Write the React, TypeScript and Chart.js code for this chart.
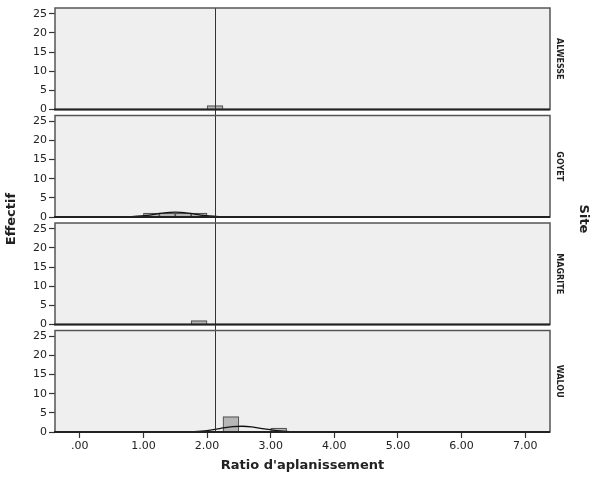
import React, { useEffect, useRef } from "react";
import { Chart, registerables } from "chart.js";

Chart.register(...registerables);

// ---- data ----
const sites = ["ALWESSE", "GOYET", "MAGRITE", "WALOU"];
const yAxisIds = ["yA", "yG", "yM", "yW"];

const alwesseBins = [2.125];
const alwesseCounts = [1];
const goyetBins = [1.125, 1.375, 1.625, 1.875];
const goyetCounts = [1, 1, 1, 1];
const magriteBins = [1.875];
const magriteCounts = [1];
const walouBins = [2.375, 3.125];
const walouCounts = [4, 1];

// normal curves
const goyetCurveX = [-0.39, 0.7, 0.9, 1.1, 1.3, 1.5, 1.7, 1.9, 2.1, 2.3, 7.39];
const goyetCurveY = [0, 0, 0.2, 0.5, 1.0, 1.25, 1.0, 0.5, 0.2, 0, 0];
const walouCurveX = [-0.39, 1.5, 1.8, 2.0, 2.2, 2.4, 2.55, 2.7, 2.9, 3.1, 3.3, 3.6, 7.39];
const walouCurveY = [0, 0, 0.1, 0.35, 0.9, 1.4, 1.5, 1.35, 0.8, 0.35, 0.1, 0, 0];

const xTicks = [0, 1, 2, 3, 4, 5, 6, 7];
const yTicks = [0, 5, 10, 15, 20, 25];
const xMin = -0.39;
const xMax = 7.39;
const yMax = 28.1;
const referenceValue = 2.12;

const xTitle = "Ratio d'aplanissement";
const yTitle = "Effectif";
const panelTitle = "Site";

// ---- styles ----
const GAP = 6;
const PANEL_BG = "#efefef";
const FRAME = "#555555";
const BAR_FILL = "#b6b6b6";
const BAR_BORDER = "#555555";
const TEXT = "#222222";
const FONT = "'DejaVu Sans', Verdana, sans-serif";

const toPoints = (xs: number[], ys: number[]) => xs.map((x, i) => ({ x, y: ys[i] }));

const panelsPlugin = {
  id: "panels",
  beforeDatasetsDraw(chart: any) {
    const { ctx, chartArea } = chart;
    ctx.save();
    ctx.fillStyle = PANEL_BG;
    for (const id of yAxisIds) {
      const s = chart.scales[id];
      ctx.fillRect(chartArea.left, s.top + GAP, chartArea.right - chartArea.left, s.bottom - s.top - GAP);
    }
    ctx.restore();
  },
  afterDatasetsDraw(chart: any) {
    const { ctx, chartArea } = chart;
    ctx.save();
    // reference line
    const xs = chart.scales.x;
    const rx = Math.round(xs.getPixelForValue(referenceValue)) + 0.5;
    const topScale = chart.scales[yAxisIds[0]];
    ctx.strokeStyle = "#333333";
    ctx.lineWidth = 1;
    ctx.beginPath();
    ctx.moveTo(rx, topScale.top + GAP);
    ctx.lineTo(rx, chartArea.bottom);
    ctx.stroke();
    // frames
    yAxisIds.forEach((id, i) => {
      const s = chart.scales[id];
      const t = s.top + GAP;
      const b = s.bottom;
      ctx.strokeStyle = FRAME;
      ctx.lineWidth = 1.5;
      ctx.strokeRect(chartArea.left, t, chartArea.right - chartArea.left, b - t);
      ctx.strokeStyle = "#222222";
      ctx.lineWidth = 2;
      ctx.beginPath();
      ctx.moveTo(chartArea.left - 1, b);
      ctx.lineTo(chartArea.right, b);
      ctx.stroke();
      // panel label
      ctx.save();
      ctx.translate(chartArea.right + 9, (t + b) / 2);
      ctx.rotate(Math.PI / 2);
      ctx.fillStyle = TEXT;
      ctx.font = `bold 8px ${FONT}`;
      ctx.textAlign = "center";
      ctx.textBaseline = "middle";
      ctx.fillText(sites[i], 0, 0);
      ctx.restore();
    });
    ctx.restore();
  },
  afterDraw(chart: any) {
    const { ctx, chartArea } = chart;
    ctx.save();
    ctx.fillStyle = TEXT;
    ctx.font = `bold 13px ${FONT}`;
    ctx.textAlign = "center";
    ctx.textBaseline = "middle";
    ctx.fillText(xTitle, (chartArea.left + chartArea.right) / 2 + 0, 466);
    const midY = 219;
    ctx.save();
    ctx.translate(12, midY);
    ctx.rotate(-Math.PI / 2);
    ctx.fillText(yTitle, 0, 0);
    ctx.restore();
    ctx.save();
    ctx.translate(583, midY);
    ctx.rotate(Math.PI / 2);
    ctx.fillText(panelTitle, 0, 0);
    ctx.restore();
    ctx.restore();
  },
};

const makeYScale = (weight: number) => ({
  type: "linear",
  position: "left",
  stack: "sites",
  stackWeight: 1,
  weight,
  min: 0,
  max: yMax,
  afterBuildTicks: (scale: any) => {
    scale.ticks = yTicks.map((v) => ({ value: v }));
  },
  afterFit: (scale: any) => {
    scale.width = 55;
    scale.paddingTop = 0;
    scale.paddingBottom = 0;
  },
  grid: {
    drawOnChartArea: false,
    drawTicks: true,
    tickLength: 6,
    tickColor: "#333333",
    tickWidth: 1.2,
  },
  border: { display: false },
  ticks: {
    color: TEXT,
    font: { family: FONT, size: 11 },
    padding: 2,
    autoSkip: false,
  },
});

export default function App() {
  const ref = useRef<HTMLCanvasElement>(null);

  useEffect(() => {
    if (!ref.current) return;
    const barBase = {
      type: "bar",
      grouped: false,
      barPercentage: 1,
      categoryPercentage: 1,
      backgroundColor: BAR_FILL,
      borderColor: BAR_BORDER,
      borderWidth: 1.2,
      order: 2,
    };
    const lineBase = {
      type: "line",
      borderColor: "#111111",
      borderWidth: 1.3,
      pointRadius: 0,
      cubicInterpolationMode: "monotone",
      fill: false,
      order: 1,
    };
    const chart = new Chart(ref.current, {
      type: "bar",
      data: {
        datasets: [
          { ...barBase, label: sites[0], yAxisID: "yA", data: toPoints(alwesseBins, alwesseCounts) },
          { ...barBase, label: sites[1], yAxisID: "yG", data: toPoints(goyetBins, goyetCounts) },
          { ...barBase, label: sites[2], yAxisID: "yM", data: toPoints(magriteBins, magriteCounts) },
          { ...barBase, label: sites[3], yAxisID: "yW", data: toPoints(walouBins, walouCounts) },
          { ...lineBase, label: sites[1] + " courbe", yAxisID: "yG", data: toPoints(goyetCurveX, goyetCurveY) },
          { ...lineBase, label: sites[3] + " courbe", yAxisID: "yW", data: toPoints(walouCurveX, walouCurveY) },
        ] as any,
      },
      options: {
        animation: false,
        responsive: false,
        maintainAspectRatio: false,
        layout: { padding: { top: 2, right: 49, left: 0, bottom: 0 } },
        plugins: { legend: { display: false }, tooltip: { enabled: false } },
        scales: {
          x: {
            type: "linear",
            position: "bottom",
            min: xMin,
            max: xMax,
            offset: false,
            afterBuildTicks: (scale: any) => {
              scale.ticks = xTicks.map((v) => ({ value: v }));
            },
            afterFit: (scale: any) => {
              scale.height = 47;
              scale.paddingLeft = 0;
              scale.paddingRight = 0;
            },
            grid: {
              offset: false,
              drawOnChartArea: false,
              drawTicks: true,
              tickLength: 6,
              tickColor: "#333333",
              tickWidth: 1.2,
            },
            border: { display: false },
            ticks: {
              color: TEXT,
              font: { family: FONT, size: 11 },
              padding: 2,
              maxRotation: 0,
              autoSkip: false,
              callback: (v: any) => (Number(v) === 0 ? ".00" : Number(v).toFixed(2)),
            },
          },
          yA: makeYScale(4),
          yG: makeYScale(3),
          yM: makeYScale(2),
          yW: makeYScale(1),
        } as any,
      },
      plugins: [panelsPlugin],
    } as any);
    return () => chart.destroy();
  }, []);

  return (
    <div style={{ position: "fixed", left: 0, top: 0, width: 599, height: 479, background: "#fff" }}>
      <canvas ref={ref} width={599} height={479} style={{ width: 599, height: 479, display: "block" }} />
    </div>
  );
}
